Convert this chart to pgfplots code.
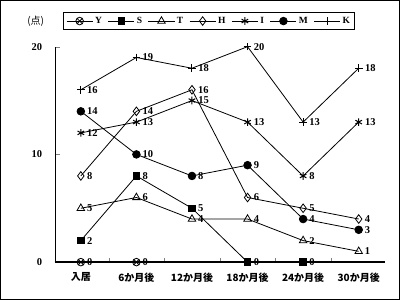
\documentclass[border=0pt]{standalone}
\usepackage{pgfplots}
\pgfplotsset{compat=1.18}
\usetikzlibrary{plotmarks}
\usepackage{fontspec}
\setmainfont{Liberation Serif}
\newfontfamily\jp{Noto Sans CJK JP}
\begin{document}
\begin{tikzpicture}[x=1bp,y=1bp]
\draw[line width=1.2bp] (1,1) rectangle (399,299);
\node[font=\jp\fontsize{10}{12}\selectfont] at (36,278) {(点)};
\begin{axis}[
  at={(55bp,38bp)}, anchor=south west,
  scale only axis, width=330bp, height=215bp,
  xmin=-0.47, xmax=5.48, ymin=0, ymax=20,
  clip=false,
  axis x line*=bottom, axis y line*=left,
  axis line style={-},
  x axis line style={line width=1.4bp},
  xtick={0,...,5},
  xticklabels={入居,6か月後,12か月後,18か月後,24か月後,30か月後},
  xticklabel style={font=\jp\bfseries\fontsize{10}{12}\selectfont, yshift=-7bp},
  major x tick style={draw=none},
  minor xtick={0.5,1.5,2.5,3.5,4.5},
  minor tick length=4bp,
  ytick={0,10,20},
  yticklabel style={font=\bfseries\fontsize{10.5}{12}\selectfont, xshift=-9bp},
  /pgf/number format/assume math mode=true,
  tick align=inside,
  major tick length=5bp,
  every axis plot/.append style={black, line width=0.8bp, mark size=3.8bp},
  nodes near coords,
  nodes near coords style={anchor=west, font=\bfseries\fontsize{10.5}{12}\selectfont, xshift=2.5bp, black},
  legend columns=7,
  legend style={at={(0.467,1.119)}, anchor=center, draw=black, line width=0.8bp,
    font=\bfseries\fontsize{9.5}{11}\selectfont, inner sep=2.5bp,
    /tikz/every even column/.append style={column sep=4bp}},
  legend image code/.code={\draw[#1,mark repeat=2,mark phase=2] plot coordinates {(0bp,0bp) (13bp,0bp) (26bp,0bp)};},
]
\addplot[mark=otimes, mark options={line width=0.8bp}] coordinates {(0,0) (1,0)};
\addlegendentry{Y}
\addplot[mark=square*, mark size=3.3bp] coordinates {(0,2) (1,8) (2,5) (3,0) (4,0)};
\addlegendentry{S}
\addplot[mark=triangle, mark options={line width=0.8bp}, mark size=4.3bp] coordinates {(0,5) (1,6) (2,4) (3,4) (4,2) (5,1)};
\addlegendentry{T}
\addplot[mark=diamond, mark options={line width=0.8bp, fill=white}, mark size=4.3bp] coordinates {(0,8) (1,14) (2,16) (3,6) (4,5) (5,4)};
\addlegendentry{H}
\addplot[mark=asterisk, mark options={line width=1bp}] coordinates {(0,12) (1,13) (2,15) (3,13) (4,8) (5,13)};
\addlegendentry{I}
\addplot[mark=*] coordinates {(0,14) (1,10) (2,8) (3,9) (4,4) (5,3)};
\addlegendentry{M}
\addplot[mark=+, mark options={line width=1bp}] coordinates {(0,16) (1,19) (2,18) (3,20) (4,13) (5,18)};
\addlegendentry{K}
\end{axis}
\end{tikzpicture}
\end{document}
